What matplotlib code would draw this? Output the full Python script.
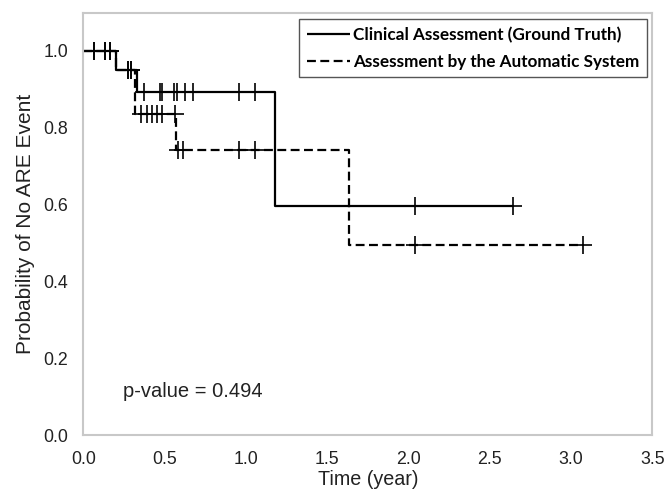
import numpy as np
import matplotlib
matplotlib.use("Agg")
import matplotlib.pyplot as plt

# ---- data ----
clin_times = [0.0, 0.201, 0.332, 1.181]
clin_surv = [1.0, 0.95, 0.894, 0.596]
clin_end = 2.641
clin_censor = [0.068, 0.135, 0.166, 0.273, 0.291, 0.375, 0.469, 0.486, 0.560,
               0.576, 0.627, 0.672, 0.959, 1.055, 2.041, 2.641]

auto_times = [0.0, 0.201, 0.318, 0.570, 1.637]
auto_surv = [1.0, 0.95, 0.836, 0.743, 0.495]
auto_end = 3.074
auto_censor = [0.068, 0.135, 0.166, 0.273, 0.291, 0.353, 0.390, 0.420, 0.451,
               0.487, 0.564, 0.584, 0.615, 0.959, 1.055, 2.041, 3.074]

labels = ["Clinical Assessment (Ground Truth)", "Assessment by the Automatic System"]
p_text = "p-value = 0.494"
xticks = [0.0, 0.5, 1.0, 1.5, 2.0, 2.5, 3.0, 3.5]
yticks = [0.0, 0.2, 0.4, 0.6, 0.8, 1.0]


def surv_at(times, surv, t):
    idx = np.searchsorted(times, t, side="right") - 1
    return np.asarray(surv)[idx]


plt.rcParams['font.family'] = ['Liberation Sans', 'DejaVu Sans']
fig = plt.figure(figsize=(6.68, 4.95), dpi=100)
ax = fig.add_axes([0.1247, 0.1212, 0.8518, 0.8535])

series = [
    (clin_times, clin_surv, clin_end, clin_censor, (0, ()), labels[0]),
    (auto_times, auto_surv, auto_end, auto_censor, (0, (4, 2)), labels[1]),
]
handles = []
for times, surv, end, cens, ls, lab in series:
    x = list(times) + [end]
    y = list(surv) + [surv[-1]]
    ln, = ax.step(x, y, where="post", color="black", lw=1.6, linestyle=ls,
                  label=lab)
    ax.plot(cens, surv_at(times, surv, cens), linestyle="none", marker="+",
            markersize=13, mew=1.2, color="black")
    handles.append(ln)

ax.set_xlim(0, 3.5)
ax.set_ylim(0, 1.1)
ax.set_xticks(xticks)
ax.set_yticks(yticks)
ax.set_xticklabels([f"{v:.1f}" for v in xticks])
ax.set_yticklabels([f"{v:.1f}" for v in yticks])
ax.tick_params(length=0, labelsize=12.8, colors="#222222")
ax.tick_params(axis="x", pad=11.5)
ax.tick_params(axis="y", pad=11)
for s in ax.spines.values():
    s.set_color("#c8c8c8")
    s.set_linewidth(1.5)

ax.set_xlabel("Time (year)", fontsize=14.2, color="#222222", labelpad=1.5)
ax.set_ylabel("Probability of No ARE Event", fontsize=15, color="#222222",
              labelpad=6)
ax.text(0.246, 0.113, p_text, fontsize=14.5, ha="left", va="center",
        color="#222222")

leg = ax.legend(handles=handles, loc="upper right",
                bbox_to_anchor=(0.9907, 0.984), borderaxespad=0,
                prop={"family": "Lato", "weight": "bold", "size": 12.3},
                handlelength=2.5, handletextpad=0.2, labelspacing=0.6,
                fancybox=False, framealpha=1, borderpad=0.45)
leg.get_frame().set_edgecolor("#555555")
leg.get_frame().set_linewidth(1.0)

fig.savefig("out.png", dpi=100, facecolor="white")
